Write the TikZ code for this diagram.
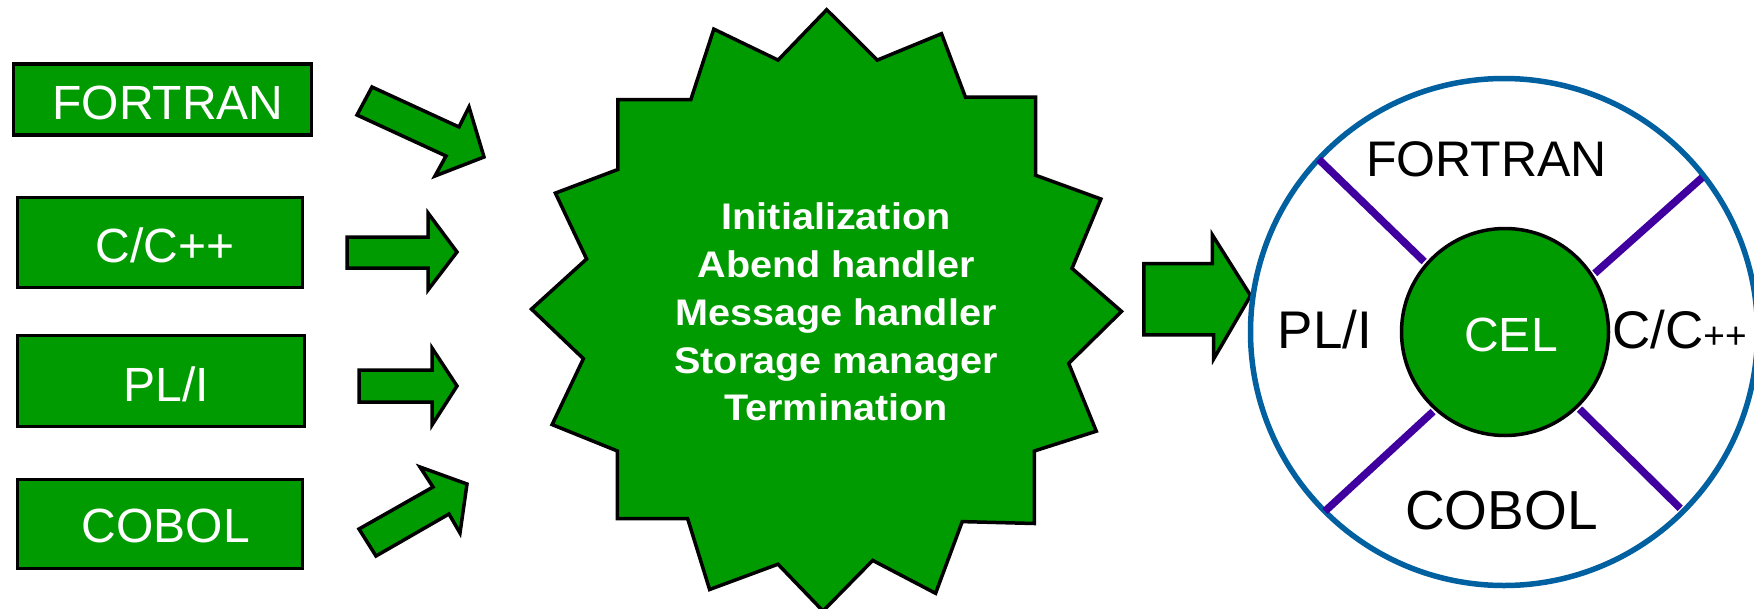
\documentclass[tikz,border=0pt]{standalone}
\usepackage{fontspec}
\setmainfont{Liberation Sans}
\definecolor{cgreen}{RGB}{0,155,0}
\definecolor{cpurple}{RGB}{64,0,160}
\definecolor{cblue}{RGB}{0,96,160}
\newcommand{\wideb}[1]{\scalebox{1.07}[1]{#1}}
\begin{document}
\begin{tikzpicture}[x=1pt,y=-1pt,
  langbox/.style={draw=black, line width=3.5pt, fill=cgreen, rectangle, inner sep=0pt},
  blockarrow/.style={draw=black, line width=3.5pt, fill=cgreen, line join=miter},
  boxtext/.style={text=white, font=\fontsize{48}{48}\selectfont, anchor=base, inner sep=0pt},
  coretext/.style={text=white, font=\bfseries\fontsize{37}{37}\selectfont, anchor=base, inner sep=0pt},
  ringtext/.style={text=black, anchor=base, inner sep=0pt},
  spoke/.style={draw=cpurple, line width=7.5pt},
]
\useasboundingbox (0,0) rectangle (1754,608);
\fill[white] (0,0) rectangle (1754,608);

% left language boxes
\node (bF) [langbox, minimum width=298pt, minimum height=71pt] at (162.5,99.25) {};
\node (bC) [langbox, minimum width=285pt, minimum height=90pt] at (160,242.5) {};
\node (bP) [langbox, minimum width=287pt, minimum height=91pt] at (161,381) {};
\node (bB) [langbox, minimum width=285pt, minimum height=89pt] at (160,524) {};
\node (tF) [boxtext] at (168,119.4) {FORTRAN};
\node (tC) [boxtext] at (165,262.5) {C/C++};
\node (tP) [boxtext] at (166,401.4) {PL/I};
\node (tB) [boxtext] at (166,542) {COBOL};

% block arrows toward the core
\draw[blockarrow] (372,87) -- (459,127) -- (469,107) -- (484,157) -- (435,176) -- (446,156) -- (357,115) -- cycle;
\draw[blockarrow] (347,237) -- (428,237) -- (428,213) -- (457,252) -- (428,290) -- (428,268) -- (347,268) -- cycle;
\draw[blockarrow] (359,370) -- (432,370) -- (432,348) -- (457,386) -- (432,425) -- (432,402) -- (359,402) -- cycle;
\draw[blockarrow] (359,529) -- (433,487) -- (420,467) -- (467,484) -- (460,533) -- (449,514) -- (376,556) -- cycle;

% core star
\draw[blockarrow] (826.7,9.7) -- (877.3,60.1) -- (941.5,33.7) -- (965.4,97) -- (1035.7,97)
  -- (1035.7,175.3) -- (1100.9,199) -- (1072,268.4) -- (1121.5,311.4) -- (1068.7,363.4)
  -- (1096.3,431.2) -- (1034.3,451) -- (1034.3,523.5) -- (962.2,521.6) -- (935.6,593.3)
  -- (872.7,560.4) -- (823,611) -- (778,564.2) -- (709.6,589.5) -- (687.6,518.5)
  -- (617.4,518.5) -- (617.4,451) -- (552.1,424.6) -- (583.4,358.7) -- (531.5,309.1)
  -- (586.6,259) -- (555.4,193.1) -- (617.8,169.5) -- (617.8,99.7) -- (690.8,99.7)
  -- (713.8,29.1) -- (778.1,60.1) -- cycle;
\node (c1) [coretext] at (836,229.6) {\wideb{Initialization}};
\node (c2) [coretext] at (836,277.7) {\wideb{Abend handler}};
\node (c3) [coretext] at (836,325) {\wideb{Message handler}};
\node (c4) [coretext] at (836,373.4) {\wideb{Storage manager}};
\node (c5) [coretext] at (836,420.8) {\wideb{Termination}};

% arrow to the ring
\draw[blockarrow] (1143.9,263.6) -- (1212.4,263.6) -- (1212.4,235) -- (1250.6,295.6) -- (1213.6,359) -- (1213.6,334.8) -- (1143.9,334.8) -- cycle;

% ring and CEL
\node (ring) [circle, draw=cblue, line width=5.5pt, minimum size=507pt, inner sep=0pt] at (1504,332) {};
\node (cel) [circle, draw=black, line width=3.5pt, fill=cgreen, minimum size=207pt, inner sep=0pt] at (1505,332) {};
\draw[spoke, shorten <=2pt, shorten >=3pt] (cel.139) -- (ring.137.4);
\draw[spoke, shorten <=2pt, shorten >=5pt] (cel.33) -- (ring.38.8);
\draw[spoke, shorten <=2pt, shorten >=3pt] (cel.228) -- (ring.225.9);
\draw[spoke, shorten <=2pt, shorten >=7pt] (cel.314.8) -- (ring.315.4);
\node (celt) [ringtext, text=white, font=\fontsize{48}{48}\selectfont] at (1511,351.5) {CEL};
\node (rF) [ringtext, font=\fontsize{50}{50}\selectfont] at (1486.7,176.7) {FORTRAN};
\node (rP) [ringtext, font=\fontsize{53}{53}\selectfont] at (1325,348) {PL/I};
\node (rC) [ringtext, anchor=base west, font=\fontsize{53}{53}\selectfont] at (1612,348) {C/C{\fontsize{37}{37}\selectfont++}};
\node (rB) [ringtext, font=\fontsize{55}{55}\selectfont] at (1501.5,529.5) {COBOL};
\end{tikzpicture}
\end{document}
